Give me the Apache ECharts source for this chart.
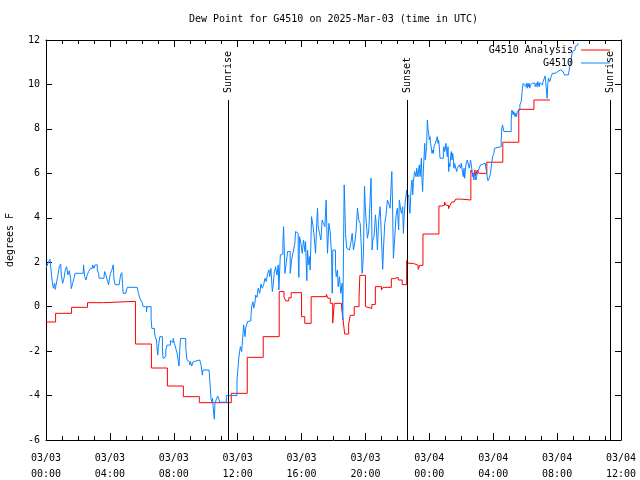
<!DOCTYPE html>
<html>
<head>
<meta charset="utf-8">
<script src="https://cdn.jsdelivr.net/npm/echarts@6/dist/echarts.min.js"></script>
<style>html,body{margin:0;padding:0;background:#fff}#c{width:640px;height:480px}</style>
</head>
<body>
<div id="c"></div>
<script>
// time in hours since 2025-03-03 00:00 UTC, dew point in degrees F
const titleText = 'Dew Point for G4510 on 2025-Mar-03 (time in UTC)';
const yAxisName = 'degrees F';
const xTickDates = ['03/03','03/03','03/03','03/03','03/03','03/03','03/04','03/04','03/04','03/04'];
const xTickTimes = ['00:00','04:00','08:00','12:00','16:00','20:00','00:00','04:00','08:00','12:00'];
const seriesNames = ['G4510 Analysis', 'G4510'];
const sunEvents = [[11.39, 'Sunrise'], [22.58, 'Sunset'], [35.31, 'Sunrise']];
const sunLineTop = 9.3;

const analysisData = [
[0,-0.69],[0.6,-0.3],[1.6,-0.03],[2.6,0.18],[3.6,0.24],[5.6,-1.68],[6.6,-2.76],[7.6,-3.57],[8.6,-4.05],[9.6,-4.32],
[11.6,-3.9],[12.6,-2.28],[13.6,-1.35],[14.6,0.68],[14.9,0.45],[15.0,0.26],[15.2,0.4],[15.35,0.63],[16.0,-0.45],[16.2,-0.75],
[16.6,0.45],[17.55,0.55],[17.65,0.38],[17.8,0.15],[17.95,-0.74],[18.05,0.15],[18.5,0.0],[18.6,-0.6],[18.7,-1.23],[18.95,-0.78],
[19.05,-0.39],[19.3,0.0],[19.6,0.45],[19.65,1.41],[20.0,0.0],[20.1,-0.08],[20.4,0.1],[20.62,0.9],[21.0,0.75],[21.1,0.87],
[21.62,1.26],[21.8,1.32],[22.05,1.2],[22.3,0.99],[22.58,2.07],[22.7,1.95],[23.0,1.86],[23.3,1.68],[23.4,1.86],[23.6,3.27],
[24.6,4.53],[24.75,4.56],[24.95,4.71],[25.05,4.56],[25.2,4.41],[25.3,4.56],[25.4,4.71],[25.55,4.8],[25.65,4.84],[26.0,4.8],
[26.6,6.15],[26.7,6.0],[26.85,6.15],[26.9,5.9],[27.0,6.15],[27.1,6.0],[27.6,6.5],[28.6,7.4],[29.6,8.88],[30.55,9.3],[31.55,9.3]
];

const stationData = [
[0,1.73],[0.125,1.95],[0.25,2.13],[0.375,1.2],[0.46,0.83],[0.54,1.05],[0.58,0.78],[0.67,1.13],[0.75,1.43],[0.83,1.8],
[0.92,1.92],[0.96,1.43],[1.04,1.05],[1.125,1.28],[1.21,1.65],[1.29,1.8],[1.375,1.43],[1.46,1.62],[1.54,1.28],[1.58,0.81],
[1.67,1.05],[1.75,1.28],[1.83,1.5],[2.33,1.5],[2.35,1.88],[2.42,1.35],[2.5,1.2],[2.58,1.43],[2.67,1.58],[2.79,1.73],
[2.92,1.88],[3.0,1.73],[3.08,1.88],[3.21,1.65],[3.29,1.5],[3.33,1.28],[3.625,1.28],[3.67,1.58],[3.75,1.43],[3.83,1.2],
[3.92,0.98],[3.96,1.2],[4.04,1.5],[4.125,1.65],[4.21,1.88],[4.25,1.28],[4.33,0.99],[4.58,0.99],[4.67,1.43],[4.75,1.53],
[4.79,1.05],[4.83,0.6],[5.0,0.6],[5.08,0.87],[5.71,0.87],[5.79,0.6],[5.875,0.38],[6.0,0.3],
[6.04,0.15],[6.08,0.0],[6.29,-0.23],[6.33,0.0],[6.58,-0.53],[6.625,-0.98],[6.79,-1.13],[6.83,-1.35],[6.92,-1.5],[6.96,-1.95],
[7.0,-2.18],[7.04,-1.8],[7.125,-1.35],[7.29,-1.95],[7.33,-2.33],[7.42,-2.25],[7.5,-1.95],[7.58,-1.73],[7.79,-1.53],[7.875,-1.62],
[7.96,-1.43],[8.04,-1.65],[8.125,-1.88],[8.21,-2.1],[8.29,-2.48],[8.33,-2.67],[8.375,-1.95],[8.42,-1.43],[8.75,-1.88],[8.83,-2.4],
[8.92,-2.48],[9.0,-2.63],[9.04,-2.48],[9.125,-2.67],[9.21,-2.48],[9.29,-2.4],[9.625,-2.48],[9.71,-2.63],[9.79,-3.08],[9.83,-2.85],
[10.21,-2.93],[10.29,-3.68],[10.33,-4.13],[10.375,-4.28],[10.42,-4.13],[10.5,-4.8],[10.54,-5.07],[10.58,-4.35],[10.67,-4.17],[10.75,-4.02],
[10.83,-4.17],[10.875,-4.3],[11.29,-4.0],
[11.96,-3.3],[12.08,-2.25],[12.17,-1.8],[12.25,-2.02],[12.375,-0.82],[12.46,-1.35],[12.5,-0.97],[12.625,-0.67],[12.75,-0.64],[12.83,-0.45],
[12.875,0.0],[12.96,0.22],[13.0,-0.07],[13.08,0.15],[13.125,0.52],[13.21,0.42],[13.29,0.83],[13.375,0.6],[13.46,1.02],[13.54,0.83],
[13.625,0.98],[13.71,1.28],[13.79,1.13],[13.875,1.5],[13.96,1.65],[14.0,1.35],[14.08,1.72],[14.17,0.68],[14.21,0.9],[14.29,1.5],
[14.375,1.8],[14.46,1.42],[14.54,1.88],[14.58,0.75],[14.67,2.33],[14.75,2.37],[14.83,2.85],[14.875,3.6],[14.96,1.5],[15.04,1.95],
[15.125,2.48],[15.29,1.5],[15.375,2.1],[15.5,2.55],[15.58,2.85],[15.625,3.38],[15.71,3.3],[15.79,2.33],[15.83,1.32],[15.875,3.15],
[15.96,2.85],[16.04,2.4],[16.125,3.0],[16.21,2.48],[16.25,2.93],[16.33,1.17],[16.375,2.55],[16.42,2.1],[16.46,1.88],[16.5,2.25],
[16.54,1.65],[16.625,4.05],[16.71,3.68],[16.79,3.15],[16.875,2.4],[16.96,3.9],[17.0,4.43],[17.04,3.6],[17.125,3.3],[17.21,3.0],
[17.29,3.9],[17.375,3.75],[17.46,3.6],[17.5,4.2],[17.54,4.8],[17.58,3.6],[17.625,2.4],[17.71,3.75],[17.79,3.38],[17.875,2.4],
[17.92,0.6],[17.96,2.55],[18.125,1.8],[18.17,1.35],[18.25,1.65],[18.29,0.9],[18.375,1.35],[18.46,0.6],[18.54,1.05],[18.58,-0.6],
[18.625,2.4],[18.67,5.48],[18.71,4.5],[18.75,3.3],[18.83,2.63],[18.92,2.55],[19.0,2.48],[19.08,2.85],[19.17,3.3],[19.25,2.55],
[19.33,2.85],[19.42,3.45],[19.5,4.43],[19.58,3.9],[19.67,3.75],[19.75,2.55],[19.79,1.5],[19.83,1.8],[19.875,2.4],[19.94,5.43],
[20.0,4.35],[20.04,3.9],[20.125,3.08],[20.21,3.45],[20.29,4.8],[20.35,5.78],[20.42,2.55],[20.46,3.0],[20.54,3.15],[20.625,4.13],
[20.67,3.75],[20.75,2.55],[20.83,3.9],[20.92,4.5],[21.0,3.15],[21.08,1.68],[21.125,2.55],[21.21,3.75],[21.29,4.13],[21.375,4.8],
[21.46,4.65],[21.54,4.43],[21.65,6.08],[21.69,4.8],[21.75,2.18],[21.83,3.08],[21.92,4.13],[22.0,4.43],[22.08,3.45],
[22.125,4.8],[22.21,4.35],[22.25,4.2],[22.33,4.5],[22.375,3.3],[22.42,4.05],[22.5,4.8],[22.54,4.95],[22.58,5.25],[22.625,4.88],
[22.71,5.03],[22.75,4.35],[22.79,4.2],[22.83,4.95],[22.875,5.48],[22.92,5.7],[22.96,5.03],[23.0,5.63],[23.08,6.08],[23.125,6.15],
[23.17,5.85],[23.21,6.23],[23.29,5.85],[23.33,6.15],[23.375,6.38],[23.42,5.85],[23.46,6.23],[23.5,6.68],[23.54,5.7],[23.58,5.18],
[23.625,6.15],[23.67,6.75],[23.71,7.35],[23.75,6.6],[23.79,6.9],[23.83,7.2],[23.875,8.4],[23.92,7.95],[23.96,7.8],[24.0,7.5],
[24.04,7.65],[24.08,7.35],[24.17,6.9],[24.21,7.05],[24.25,6.9],[24.29,7.2],[24.375,7.35],[24.42,7.43],[24.46,7.28],[24.5,7.65],
[24.54,7.35],[24.58,7.5],[24.625,7.2],[24.67,6.68],[24.875,7.05],[24.92,7.2],[24.96,6.98],[25.0,7.13],[25.04,7.35],[25.08,7.05],
[25.125,6.75],[25.17,7.2],[25.21,6.08],[25.25,6.45],[25.29,6.3],[25.33,6.75],[25.375,6.98],[25.42,6.6],[25.46,6.9],[25.5,6.68],
[25.54,6.23],[25.58,6.45],[25.67,6.38],[25.71,6.08],[25.75,6.23],[25.875,6.38],[25.92,6.45],[25.96,6.23],[26.0,6.45],[26.04,6.23],
[26.08,6.15],[26.125,5.85],[26.17,6.23],[26.21,5.78],[26.25,6.08],[26.29,6.38],[26.33,6.45],[26.375,6.6],[26.42,6.68],[26.46,6.53],
[26.5,6.23],[26.58,6.6],[26.625,6.68],[26.67,6.15],[26.71,5.85],[26.75,6.0],[26.79,5.7],[26.83,6.0],[26.875,5.85],[26.92,5.7],
[26.96,5.85],[27.0,5.93],[27.04,6.08],[27.08,6.15],[27.125,6.23],[27.21,6.38],[27.29,6.45],[27.5,6.38],[27.54,6.23],[27.58,6.08],
[27.625,5.85],[27.67,5.67],[27.75,5.78],[27.83,6.0],[27.875,6.3],[27.92,6.53],[27.96,6.75],[28.04,6.9],[28.08,7.13],[28.17,7.2],
[28.5,7.5],[28.54,8.03],[28.58,8.18],[28.67,7.88],[29.125,8.4],[29.17,8.85],[29.21,8.78],[29.25,8.63],[29.29,8.78],[29.33,8.85],
[29.375,8.55],[29.42,8.7],[29.46,8.55],[29.5,8.78],[29.54,8.85],[29.58,8.78],[29.625,8.85],[29.67,9.08],[29.71,9.15],[29.75,9.23],
[29.79,9.53],[29.83,9.83],[29.875,10.05],[29.92,10.08],[29.96,9.98],[30.0,10.05],[30.04,9.9],[30.08,10.05],[30.125,9.83],[30.17,10.05],
[30.21,9.9],[30.25,10.05],[30.29,9.83],[30.33,9.98],[30.375,10.05],[30.42,9.9],[30.46,10.05],[30.54,9.98],[30.58,10.05],[30.625,9.9],
[30.71,10.05],[30.75,9.9],[30.79,10.13],[30.875,9.9],[30.92,10.08],[31.0,10.05],[31.04,10.13],[31.08,9.98],[31.125,10.13],[31.17,10.05],
[31.21,10.2],[31.25,10.38],[31.29,10.08],[31.33,9.75],[31.375,9.38],[31.42,10.05],[31.46,10.28],[31.5,10.35],[31.54,10.13],[31.58,10.2],
[31.625,10.35],[31.67,10.43],[31.71,10.5],[31.875,10.55],[31.96,10.58],[32.04,10.62],[32.125,10.65],[32.21,10.68],[32.29,10.58],[32.375,10.5],
[32.46,10.43],[32.71,10.5],[32.75,10.62],[32.79,10.8],[32.83,10.95],[32.875,11.1],[32.92,11.33],[32.96,11.48],[33.0,11.55],[33.125,11.7],
[33.21,11.78],[33.3,11.85]
];

const FONT = 'DejaVu Sans Mono';
const chart = echarts.init(document.getElementById('c'), null, {renderer: 'canvas'});

const axisCommon = {
  axisLine: {show: true, onZero: false, lineStyle: {color: '#000', width: 1}},
  splitLine: {show: false}
};

chart.setOption({
  animation: false,
  backgroundColor: '#fff',
  title: {
    text: titleText, left: 184, top: 9,
    textStyle: {fontFamily: FONT, fontSize: 10, fontWeight: 'normal', color: '#000'}
  },
  legend: [
    {data: [seriesNames[0]], right: 30, top: 45, orient: 'vertical', align: 'right',
     icon: 'rect', itemWidth: 29, itemHeight: 1, padding: 0,
     textStyle: {fontFamily: FONT, fontSize: 10, color: '#000', padding: [0, 3, 0, 0]}},
    {data: [seriesNames[1]], right: 30, top: 58, orient: 'vertical', align: 'right',
     icon: 'rect', itemWidth: 29, itemHeight: 1, padding: 0,
     textStyle: {fontFamily: FONT, fontSize: 10, color: '#000', padding: [0, 3, 0, 0]}}
  ],
  grid: {left: 46, right: 19, top: 40, bottom: 40, containLabel: false, outerBoundsMode: 'none'},
  xAxis: [
    Object.assign({}, axisCommon, {
      type: 'value', min: 0, max: 36, interval: 4, position: 'bottom',
      axisTick: {show: true, inside: true, length: 7, lineStyle: {color: '#000'}},
      minorTick: {show: true, splitNumber: 4, length: 4, lineStyle: {color: '#000'}},
      minorSplitLine: {show: false},
      axisLabel: {
        show: true, margin: 10, fontFamily: FONT, fontSize: 10, color: '#000', lineHeight: 16,
        formatter: function (v) { const i = Math.round(v / 4); return xTickDates[i] + '\n' + xTickTimes[i]; }
      }
    }),
    Object.assign({}, axisCommon, {
      type: 'value', min: 0, max: 36, interval: 4, position: 'top',
      axisTick: {show: true, inside: true, length: 7, lineStyle: {color: '#000'}},
      minorTick: {show: true, splitNumber: 4, length: 4, lineStyle: {color: '#000'}},
      axisLabel: {show: false}
    })
  ],
  yAxis: [
    Object.assign({}, axisCommon, {
      type: 'value', min: -6, max: 12, interval: 2, position: 'left',
      name: yAxisName, nameLocation: 'middle', nameGap: 31, nameRotate: 90,
      nameTextStyle: {fontFamily: FONT, fontSize: 10, color: '#000'},
      axisTick: {show: true, inside: true, length: 6, lineStyle: {color: '#000'}},
      axisLabel: {show: true, margin: 6, fontFamily: FONT, fontSize: 10, color: '#000'}
    }),
    Object.assign({}, axisCommon, {
      type: 'value', min: -6, max: 12, interval: 2, position: 'right',
      axisTick: {show: true, inside: true, length: 6, lineStyle: {color: '#000'}},
      axisLabel: {show: false}
    })
  ],
  series: [
    {
      name: seriesNames[0], type: 'line', step: 'end', data: analysisData,
      showSymbol: false, symbol: 'none', color: '#ff0000',
      lineStyle: {color: '#ff0000', width: 1}, z: 2
    },
    {
      name: seriesNames[1], type: 'line', step: 'end', data: stationData,
      showSymbol: false, symbol: 'none', color: '#0a84ff',
      lineStyle: {color: '#0a84ff', width: 1}, z: 3
    },
    {
      type: 'custom', coordinateSystem: 'cartesian2d', z: 4,
      data: sunEvents.map(function (e) { return [e[0], sunLineTop]; }),
      renderItem: function (params, api) {
        const t = api.value(0);
        const p0 = api.coord([t, -6]);
        const p1 = api.coord([t, api.value(1)]);
        const x = Math.round(p0[0]) + 0.5;
        return {
          type: 'group',
          children: [
            {type: 'line', shape: {x1: x, y1: p0[1], x2: x, y2: p1[1]},
             style: {stroke: '#000', lineWidth: 1}},
            {type: 'text', x: x, y: p1[1] - 7, rotation: Math.PI / 2,
             style: {text: sunEvents[params.dataIndex][1], font: '10px ' + FONT, fill: '#000',
                     align: 'left', verticalAlign: 'middle'}}
          ]
        };
      }
    }
  ]
});
</script>
</body>
</html>
